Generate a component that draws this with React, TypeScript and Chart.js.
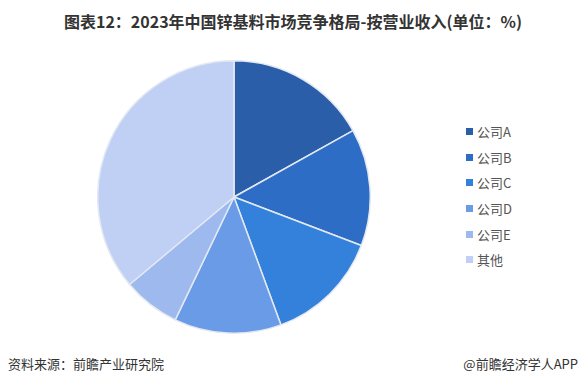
import React, { useEffect, useRef } from "react";
import { Chart, registerables } from "chart.js";

Chart.register(...registerables);

const categories = ["公司A", "公司B", "公司C", "公司D", "公司E", "其他"];
const shares = [16.9, 13.9, 13.6, 12.7, 6.8, 36.1];
const colors = ["#2a5ea9", "#2d6dc5", "#3481dc", "#6a9be6", "#9db9ee", "#c0d0f4"];

const titleText = "图表12：2023年中国锌基料市场竞争格局-按营业收入(单位：%)";
const sourceText = "资料来源：前瞻产业研究院";
const brandText = "@前瞻经济学人APP";

const FONT = '"Noto Sans CJK SC", "Noto Sans", sans-serif';

export default function App() {
  const canvasRef = useRef<HTMLCanvasElement | null>(null);

  useEffect(() => {
    if (!canvasRef.current) return;
    const chart = new Chart(canvasRef.current, {
      type: "pie",
      data: {
        labels: categories,
        datasets: [
          {
            data: shares,
            backgroundColor: colors,
            borderColor: "#e3e9f3",
            borderWidth: 1.5,
          },
        ],
      },
      options: {
        animation: false,
        responsive: false,
        maintainAspectRatio: false,
        layout: { padding: 0 },
        plugins: {
          legend: { display: false },
          tooltip: { enabled: false },
          title: { display: false },
        },
      },
    });
    return () => chart.destroy();
  }, []);

  return (
    <div
      style={{
        position: "fixed",
        left: 0,
        top: 0,
        width: 580,
        height: 387,
        background: "#ffffff",
        fontFamily: FONT,
        overflow: "hidden",
      }}
    >
      <div
        style={{
          position: "absolute",
          left: 0,
          width: 580,
          top: 10,
          textAlign: "center",
          fontSize: 16,
          fontWeight: "bold",
          color: "#333333",
          lineHeight: "22px",
          paddingLeft: 6,
          boxSizing: "border-box",
          whiteSpace: "nowrap",
        }}
      >
        {titleText}
      </div>
      <canvas
        ref={canvasRef}
        width={274}
        height={274}
        style={{ position: "absolute", left: 97, top: 60, width: 274, height: 274 }}
      />
      <div style={{ position: "absolute", left: 466, top: 119 }}>
        {categories.map((c, i) => (
          <div
            key={c}
            style={{
              display: "flex",
              alignItems: "center",
              height: 25.6,
              fontSize: 13,
              color: "#555555",
            }}
          >
            <span
              style={{
                display: "inline-block",
                width: 7,
                height: 7,
                background: colors[i],
                marginRight: 4,
              }}
            />
            <span>{c}</span>
          </div>
        ))}
      </div>
      <div
        style={{
          position: "absolute",
          left: 8,
          top: 355,
          fontSize: 13,
          color: "#333333",
          lineHeight: "18px",
        }}
      >
        {sourceText}
      </div>
      <div
        style={{
          position: "absolute",
          right: 2,
          top: 355,
          fontSize: 13,
          color: "#333333",
          lineHeight: "18px",
        }}
      >
        {brandText}
      </div>
    </div>
  );
}
